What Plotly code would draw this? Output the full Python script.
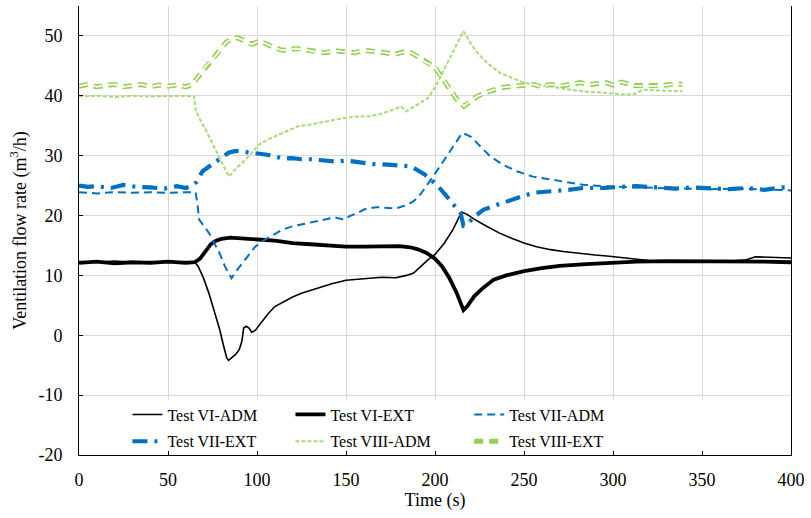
import plotly.graph_objects as go

# ---------------- data ----------------
t_vi_adm = [0, 10, 20, 30, 40, 50, 60, 65, 67, 70, 73, 76, 79, 81, 83, 84, 86, 88, 90, 91.5, 92.5, 94, 95.5, 97, 99, 102, 106, 110, 115, 120, 125, 130, 136, 142, 150, 160, 170, 178, 184, 188, 192, 196, 200, 205, 210, 215, 218, 222, 229, 236, 243, 250, 257, 265, 272, 280, 290, 298, 305, 313, 320, 330, 340, 350, 360, 370, 375, 380, 390, 400]
v_vi_adm = [12.3, 12.2, 12.4, 12.2, 12.3, 12.2, 12.3, 12.2, 11.5, 9.5, 7, 4, 1, -1.5, -3.8, -4.2, -3.7, -3.2, -2.4, -1, 1.2, 1.5, 1.2, 0.5, 0.8, 2, 3.5, 4.8, 5.6, 6.4, 7, 7.5, 8.1, 8.6, 9.2, 9.5, 9.7, 9.6, 10, 10.4, 11.5, 12.6, 13.5, 15.3, 17.6, 20.6, 20.2, 19.4, 18.2, 17.1, 16.2, 15.4, 14.8, 14.3, 14, 13.7, 13.4, 13.2, 13, 12.7, 12.5, 12.4, 12.4, 12.4, 12.3, 12.5, 12.6, 13.1, 13.0, 12.9]

t_vi_ext = [0, 10, 20, 30, 40, 50, 60, 65, 68, 71, 74, 77, 80, 85, 90, 95, 100, 105, 110, 115, 120, 130, 140, 150, 160, 170, 180, 186, 190, 195, 200, 204, 208, 212, 215, 216, 218, 222, 227, 233, 240, 250, 260, 270, 285, 298, 313, 330, 350, 370, 385, 400]
v_vi_ext = [12.1, 12.3, 12.0, 12.2, 12.1, 12.3, 12.1, 12.2, 12.8, 14, 15.2, 15.8, 16.1, 16.3, 16.2, 16.1, 16.1, 16.0, 15.8, 15.6, 15.4, 15.2, 15.0, 14.8, 14.8, 14.8, 14.9, 14.7, 14.4, 13.8, 12.8, 11.5, 9.6, 7.2, 5.0, 4.2, 4.8, 6.5, 7.9, 9.3, 10.0, 10.7, 11.2, 11.6, 11.9, 12.1, 12.3, 12.4, 12.4, 12.3, 12.3, 12.2]

t_vii_adm = [0, 10, 20, 30, 40, 50, 60, 65.5, 66.5, 67.5, 70, 73, 76, 79, 82, 85.7, 88, 91.7, 95, 99, 104, 109, 114, 120, 126, 132.6, 138, 143.7, 149, 152, 157, 160, 167, 173.5, 178, 184.6, 188, 192, 196, 200, 205, 210, 215.3, 220, 225, 231, 238, 246, 255, 264.6, 274, 283, 295, 310, 325, 340, 355, 370, 385, 400]
v_vii_adm = [23.9, 23.7, 23.9, 23.8, 23.9, 23.8, 23.9, 23.9, 22, 19.3, 18.3, 17.1, 15.4, 13.7, 11.5, 9.5, 10.6, 12.05, 13.4, 14.8, 15.9, 16.8, 17.6, 18.2, 18.6, 19.0, 19.4, 19.7, 19.3, 19.9, 20.5, 21, 21.4, 21.25, 21.2, 21.8, 22.4, 23.6, 25.2, 27, 29.2, 31.4, 33.8, 33.2, 31.7, 29.9, 28.5, 27.4, 26.5, 26, 25.5, 25.15, 24.9, 24.7, 24.6, 24.5, 24.4, 24.5, 24.3, 24.2]

t_vii_ext = [0, 5, 10, 18, 25, 32, 40, 48, 55, 60, 64, 66, 69.4, 73, 77, 80.5, 84, 88, 91.7, 96, 100, 104.7, 110, 115, 119.6, 125, 130, 134.4, 140, 145, 150, 158.6, 165, 173.5, 180, 186.5, 190, 194, 197.7, 202, 206, 210, 214.4, 216, 218, 222, 227.4, 235, 242.3, 248, 255.3, 265, 275, 283, 295, 305, 313, 325, 335, 345, 355, 365, 375, 385, 395, 400]
v_vii_ext = [25, 24.8, 24.9, 24.6, 25.1, 24.8, 24.7, 24.5, 24.9, 24.6, 25.1, 25.6, 27.4, 28.2, 29, 29.9, 30.5, 30.8, 30.7, 30.6, 30.5, 30.2, 29.9, 29.5, 29.6, 29.4, 29.4, 29.3, 29.1, 29.0, 29.2, 28.8, 28.6, 28.5, 28.4, 28.2, 27.6, 26.9, 26.0, 24.8, 23.4, 21.9, 20.4, 18.3, 18.5, 19.8, 21, 21.8, 22.6, 23.1, 23.8, 24.0, 24.3, 24.6, 24.6, 24.8, 24.9, 24.7, 24.5, 24.7, 24.6, 24.4, 24.6, 24.3, 24.7, 24.6]

t_viii_adm = [0, 10, 20, 30, 40, 50, 60, 64.7, 65.6, 68, 71.2, 75, 78.7, 82, 84.2, 88, 93.5, 97, 101, 106, 112, 117, 123, 130, 138, 143, 149.3, 155, 164, 170, 175, 181, 183.7, 188, 192, 196, 200, 203.2, 207, 211, 216, 220, 223.7, 230, 236.7, 243, 249.8, 257, 264.6, 272, 283, 295, 307, 312, 316.7, 325, 332, 339]
v_viii_adm = [39.9, 40.0, 39.8, 40.0, 39.9, 40.0, 40.0, 39.9, 37.7, 36, 34.3, 32, 29.9, 27.8, 26.5, 27.8, 29.3, 30.5, 31.8, 32.7, 33.5, 34.2, 34.9, 35.2, 35.7, 35.9, 36.3, 36.5, 36.6, 37.0, 37.6, 38.2, 37.4, 38.2, 38.9, 39.6, 41.4, 43.3, 45.5, 47.7, 50.8, 48.8, 47.2, 45.3, 43.8, 43.0, 42.2, 41.8, 41.6, 41.2, 40.75, 40.5, 40.2, 40.3, 41, 40.9, 40.8, 40.75]

t_viii_ext = [0, 5, 10, 15, 20, 25, 30, 35, 40, 45, 50, 55, 60, 63.8, 66, 69.4, 72, 75, 79, 82.4, 85, 88.9, 92, 95, 97.2, 100, 103.8, 107, 110.3, 114, 117.7, 122, 127, 132, 138, 145, 150, 155, 160, 166, 172, 177.2, 182, 186.5, 190, 192, 196, 199.5, 204, 208.8, 212, 216.3, 220, 223.7, 228, 233, 238, 244, 250, 255.3, 260, 264.6, 272, 281.3, 287, 292, 296, 300, 304.6, 312, 319.5, 327, 335.3, 339]
v_viii_ext = [41.6, 41.9, 41.5, 41.8, 41.9, 41.5, 41.7, 41.9, 41.5, 41.8, 41.6, 41.8, 41.5, 41.9, 42.8, 44.1, 45.2, 46.05, 47.6, 48.85, 49.4, 49.7, 49.3, 48.8, 48.6, 49, 48.85, 48.4, 48.0, 47.6, 47.7, 47.9, 47.7, 47.4, 47.2, 47.5, 47.3, 47.2, 47.6, 47.45, 47.2, 46.9, 47.3, 47.2, 46.6, 46.05, 45.5, 44.9, 43.0, 41.0, 39.5, 38.25, 39.2, 39.9, 40.5, 41.0, 41.4, 41.6, 41.7, 41.9, 41.5, 41.9, 41.7, 42.2, 41.9, 42.0, 42.2, 41.8, 42.3, 41.7, 41.6, 41.7, 42.0, 41.9]

x_ticks = [0, 50, 100, 150, 200, 250, 300, 350, 400]
y_ticks = [-20, -10, 0, 10, 20, 30, 40, 50]

BLUE = "#0070C0"
GREEN = "#92D050"
GREEN_L = "#A9DA78"

fig = go.Figure()

fig.add_trace(go.Scatter(x=t_vi_adm, y=v_vi_adm, mode="lines", name="Test VI-ADM",
                         legend="legend", legendgroup="a",
                         line=dict(color="black", width=1.6)))
fig.add_trace(go.Scatter(x=t_vi_ext, y=v_vi_ext, mode="lines", name="Test VI-EXT",
                         legend="legend2", legendgroup="b",
                         line=dict(color="black", width=3.8)))
fig.add_trace(go.Scatter(x=t_vii_adm, y=v_vii_adm, mode="lines", name="Test VII-ADM",
                         legend="legend3", legendgroup="c",
                         line=dict(color=BLUE, width=2, dash="8px,5px")))
fig.add_trace(go.Scatter(x=t_vii_ext, y=v_vii_ext, mode="lines", name="Test VII-EXT",
                         legend="legend", legendgroup="d",
                         line=dict(color=BLUE, width=4.2, dash="15px,7px,3px,7px")))
fig.add_trace(go.Scatter(x=t_viii_adm, y=v_viii_adm, mode="lines", name="Test VIII-ADM",
                         legend="legend2", legendgroup="e",
                         line=dict(color=GREEN_L, width=2, dash="4px,2px")))
fig.add_trace(go.Scatter(x=t_viii_ext, y=v_viii_ext, mode="lines", name="Test VIII-EXT",
                         legend="legend3", legendgroup="f",
                         line=dict(color=GREEN, width=5, dash="9px,6px")))
fig.add_trace(go.Scatter(x=t_viii_ext, y=v_viii_ext, mode="lines", name="Test VIII-EXT",
                         legend="legend3", legendgroup="f", showlegend=False, hoverinfo="skip",
                         line=dict(color="white", width=1.8, dash="9px,6px")))

# white band behind the legend (covers gridlines)
fig.add_shape(type="rect", xref="x", yref="y", x0=0, x1=400, y0=-20, y1=-10.8,
              fillcolor="white", line=dict(width=0), layer="between")

font_main = "Liberation Serif"


def leg(xpos):
    return dict(orientation="v", x=xpos, xanchor="left", y=0.128, yanchor="top",
                bgcolor="rgba(0,0,0,0)", traceorder="grouped", tracegroupgap=3,
                font=dict(family=font_main, size=16, color="black"),
                itemwidth=30)


fig.update_layout(
    width=811, height=518,
    margin=dict(l=79, r=15, t=6, b=63),
    paper_bgcolor="white", plot_bgcolor="white",
    font=dict(family=font_main, size=16, color="black"),
    showlegend=True,
    legend=leg(0.068),
    legend2=leg(0.297),
    legend3=leg(0.548),
)

fig.update_xaxes(range=[0, 400], tickvals=x_ticks, ticktext=[str(v) for v in x_ticks],
                 showgrid=True, gridcolor="#D9D9D9", gridwidth=1,
                 showline=True, linecolor="black", linewidth=1, mirror=False,
                 ticks="inside", ticklen=4, tickcolor="black",
                 zeroline=False, ticklabelstandoff=8,
                 title=dict(text="Time (s)", standoff=3,
                            font=dict(family=font_main, size=18)),
                 tickfont=dict(family=font_main, size=18))
fig.update_yaxes(range=[-20, 55], tickvals=y_ticks, ticktext=[str(v) for v in y_ticks],
                 showgrid=True, gridcolor="#D9D9D9", gridwidth=1,
                 showline=True, linecolor="black", linewidth=1, mirror=True,
                 ticks="inside", ticklen=4, tickcolor="black",
                 zeroline=False, ticklabelstandoff=12,
                 title=dict(text="Ventilation flow rate (m<sup>3</sup>/h)", standoff=7,
                            font=dict(family=font_main, size=18)),
                 tickfont=dict(family=font_main, size=18))

fig.write_html("out.html")
